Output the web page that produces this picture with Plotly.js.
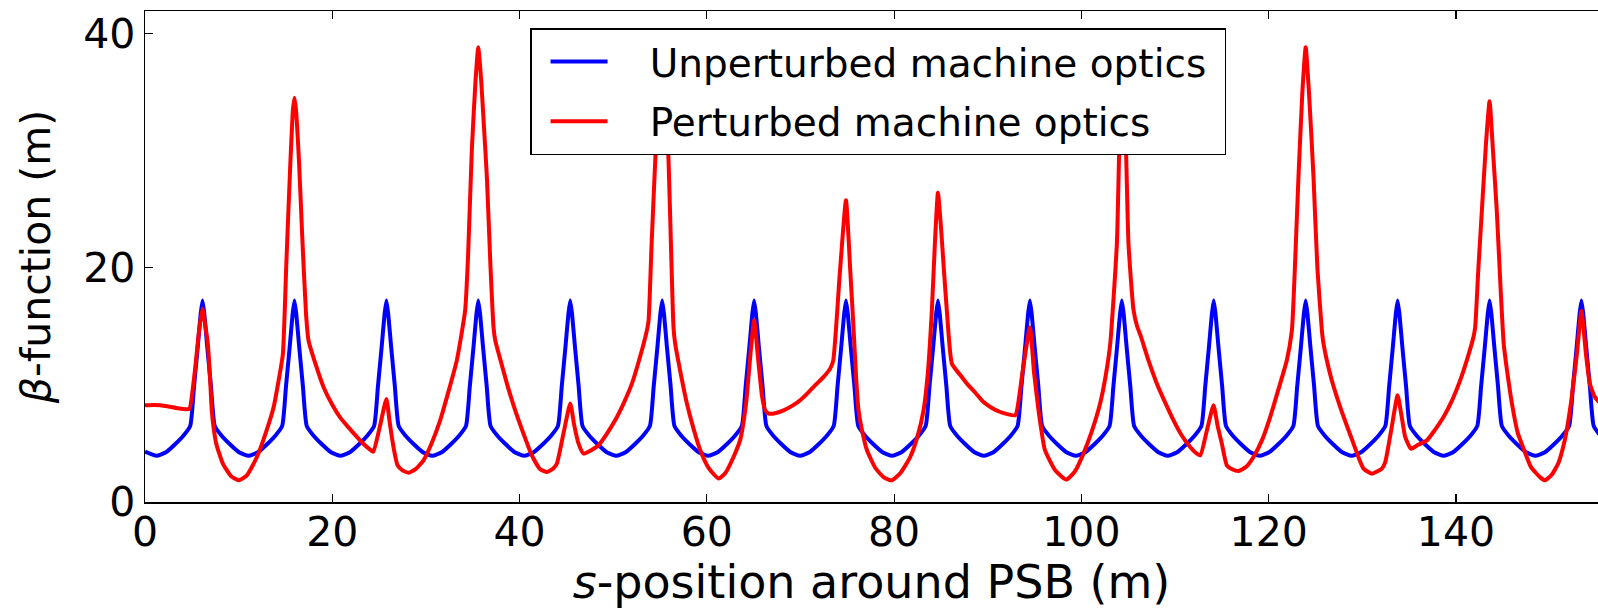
<!DOCTYPE html>
<html>
<head>
<meta charset="utf-8">
<script src="https://cdn.plot.ly/plotly-3.0.1.min.js"></script>
<style>
  html, body { margin: 0; padding: 0; background: #ffffff; }
  #chart { width: 1598px; height: 609px; }
</style>
</head>
<body>
<div id="chart"></div>
<script>
// ---- Data ----
// Unperturbed machine optics (blue): s-position (m) and beta (m)
const sUnperturbed = [
  0.00,
  1.23, 2.24, 3.24, 4.14, 4.83, 5.24, 5.64, 5.94, 6.14, 6.34, 6.64, 7.04, 7.45, 8.14, 9.04, 10.04,
  11.05, 12.06, 13.06, 13.96, 14.65, 15.06, 15.46, 15.76, 15.96, 16.16, 16.46, 16.86, 17.27, 17.96, 18.86, 19.86,
  20.87, 21.88, 22.88, 23.78, 24.47, 24.88, 25.28, 25.58, 25.78, 25.98, 26.28, 26.68, 27.09, 27.78, 28.68, 29.68,
  30.68, 31.69, 32.69, 33.59, 34.28, 34.69, 35.09, 35.39, 35.59, 35.79, 36.09, 36.49, 36.90, 37.59, 38.49, 39.49,
  40.50, 41.51, 42.51, 43.41, 44.10, 44.51, 44.91, 45.21, 45.41, 45.61, 45.91, 46.31, 46.72, 47.41, 48.31, 49.31,
  50.32, 51.33, 52.33, 53.23, 53.92, 54.33, 54.73, 55.03, 55.23, 55.43, 55.73, 56.13, 56.54, 57.23, 58.13, 59.13,
  60.14, 61.15, 62.15, 63.05, 63.74, 64.15, 64.55, 64.85, 65.05, 65.25, 65.55, 65.95, 66.36, 67.05, 67.95, 68.95,
  69.95, 70.96, 71.96, 72.86, 73.55, 73.96, 74.36, 74.66, 74.86, 75.06, 75.36, 75.76, 76.17, 76.86, 77.76, 78.76,
  79.77, 80.78, 81.78, 82.68, 83.37, 83.78, 84.18, 84.48, 84.68, 84.88, 85.18, 85.58, 85.99, 86.68, 87.58, 88.58,
  89.59, 90.60, 91.60, 92.50, 93.19, 93.60, 94.00, 94.30, 94.50, 94.70, 95.00, 95.40, 95.81, 96.50, 97.40, 98.40,
  99.41, 100.42, 101.42, 102.32, 103.01, 103.42, 103.82, 104.12, 104.32, 104.52, 104.82, 105.22, 105.63, 106.32, 107.22, 108.22,
  109.22, 110.23, 111.23, 112.13, 112.82, 113.23, 113.63, 113.93, 114.13, 114.33, 114.63, 115.03, 115.44, 116.13, 117.03, 118.03,
  119.04, 120.05, 121.05, 121.95, 122.64, 123.05, 123.45, 123.75, 123.95, 124.15, 124.45, 124.85, 125.26, 125.95, 126.85, 127.85,
  128.86, 129.87, 130.87, 131.77, 132.46, 132.87, 133.27, 133.57, 133.77, 133.97, 134.27, 134.67, 135.08, 135.77, 136.67, 137.67,
  138.68, 139.69, 140.69, 141.59, 142.28, 142.69, 143.09, 143.39, 143.59, 143.79, 144.09, 144.49, 144.90, 145.59, 146.49, 147.49,
  148.49, 149.50, 150.50, 151.40, 152.09, 152.50, 152.90, 153.20, 153.40, 153.60, 153.90, 154.30, 154.71, 155.40, 156.30, 157.08
];
const betaUnperturbed = [
  4.3,
  3.95, 4.25, 4.95, 5.7, 6.5, 9.9, 13.3, 16.0, 17.2, 16.0, 13.3, 9.9, 6.5, 5.7, 4.95, 4.25,
  3.95, 4.25, 4.95, 5.7, 6.5, 9.9, 13.3, 16.0, 17.2, 16.0, 13.3, 9.9, 6.5, 5.7, 4.95, 4.25,
  3.95, 4.25, 4.95, 5.7, 6.5, 9.9, 13.3, 16.0, 17.2, 16.0, 13.3, 9.9, 6.5, 5.7, 4.95, 4.25,
  3.95, 4.25, 4.95, 5.7, 6.5, 9.9, 13.3, 16.0, 17.2, 16.0, 13.3, 9.9, 6.5, 5.7, 4.95, 4.25,
  3.95, 4.25, 4.95, 5.7, 6.5, 9.9, 13.3, 16.0, 17.2, 16.0, 13.3, 9.9, 6.5, 5.7, 4.95, 4.25,
  3.95, 4.25, 4.95, 5.7, 6.5, 9.9, 13.3, 16.0, 17.2, 16.0, 13.3, 9.9, 6.5, 5.7, 4.95, 4.25,
  3.95, 4.25, 4.95, 5.7, 6.5, 9.9, 13.3, 16.0, 17.2, 16.0, 13.3, 9.9, 6.5, 5.7, 4.95, 4.25,
  3.95, 4.25, 4.95, 5.7, 6.5, 9.9, 13.3, 16.0, 17.2, 16.0, 13.3, 9.9, 6.5, 5.7, 4.95, 4.25,
  3.95, 4.25, 4.95, 5.7, 6.5, 9.9, 13.3, 16.0, 17.2, 16.0, 13.3, 9.9, 6.5, 5.7, 4.95, 4.25,
  3.95, 4.25, 4.95, 5.7, 6.5, 9.9, 13.3, 16.0, 17.2, 16.0, 13.3, 9.9, 6.5, 5.7, 4.95, 4.25,
  3.95, 4.25, 4.95, 5.7, 6.5, 9.9, 13.3, 16.0, 17.2, 16.0, 13.3, 9.9, 6.5, 5.7, 4.95, 4.25,
  3.95, 4.25, 4.95, 5.7, 6.5, 9.9, 13.3, 16.0, 17.2, 16.0, 13.3, 9.9, 6.5, 5.7, 4.95, 4.25,
  3.95, 4.25, 4.95, 5.7, 6.5, 9.9, 13.3, 16.0, 17.2, 16.0, 13.3, 9.9, 6.5, 5.7, 4.95, 4.25,
  3.95, 4.25, 4.95, 5.7, 6.5, 9.9, 13.3, 16.0, 17.2, 16.0, 13.3, 9.9, 6.5, 5.7, 4.95, 4.25,
  3.95, 4.25, 4.95, 5.7, 6.5, 9.9, 13.3, 16.0, 17.2, 16.0, 13.3, 9.9, 6.5, 5.7, 4.95, 4.25,
  3.95, 4.25, 4.95, 5.7, 6.5, 9.9, 13.3, 16.0, 17.2, 16.0, 13.3, 9.9, 6.5, 5.7, 4.95, 4.4
];

// Perturbed machine optics (red): s-position (m) and beta (m)
const sPerturbed = [
  0.00, 1.00, 1.62, 2.50, 3.50, 4.47, 4.75, 5.30, 5.80, 6.14, 6.45, 6.71, 6.95, 7.13, 7.35, 7.60, 8.30, 9.20,
  10.06, 10.90, 11.95, 12.90, 13.74, 14.30, 14.72, 15.10, 15.50, 15.80, 15.96, 16.12, 16.45, 16.80, 17.20, 17.46,
  18.20, 19.07, 20.00, 20.85, 21.80, 22.63, 23.40, 24.23, 24.40, 25.10, 25.78, 26.10, 26.36, 26.70, 26.97, 27.50,
  28.14, 28.90, 29.74, 30.60, 31.52, 32.40, 33.30, 34.19, 34.50, 34.90, 35.30, 35.59, 35.90, 36.20, 36.51, 36.90,
  37.22, 37.40, 38.00, 38.65, 39.50, 40.42, 41.30, 42.20, 42.92, 43.60, 43.99, 44.70, 45.41, 45.85, 46.30, 46.83,
  47.60, 48.43, 49.30, 50.21, 51.10, 52.00, 52.80, 53.60, 53.78, 54.10, 54.49, 54.90, 55.23, 55.55, 55.91, 56.20,
  56.44, 56.62, 57.20, 57.87, 58.60, 59.29, 60.20, 61.25, 62.00, 62.85, 63.56, 64.20, 64.70, 65.05, 65.50, 65.90,
  66.23, 66.60, 67.40, 68.19, 69.10, 69.97, 70.90, 71.75, 72.50, 73.17, 73.50, 74.20, 74.86, 75.30, 75.66, 75.95,
  76.20, 76.60, 77.09, 78.00, 78.90, 79.76, 80.70, 81.72, 82.50, 83.14, 83.60, 84.03, 84.35, 84.68, 85.00, 85.30,
  85.63, 86.17, 87.00, 87.77, 88.70, 89.55, 90.40, 91.33, 92.10, 92.93, 93.70, 94.50, 94.95, 95.42, 95.75, 96.10,
  97.20, 98.38, 99.30, 100.22, 101.10, 102.00, 102.60, 103.08, 103.79, 104.05, 104.35, 104.75, 105.03, 105.57, 105.95, 106.28,
  107.20, 108.06, 109.00, 109.84, 110.70, 111.62, 112.20, 112.69, 113.40, 114.11, 114.55, 115.00, 115.53, 116.10, 116.78, 117.60,
  118.38, 119.30, 120.16, 121.00, 121.94, 122.48, 122.85, 123.18, 123.60, 123.95, 124.30, 124.79, 125.20, 125.68, 125.86, 126.70,
  127.64, 128.40, 129.06, 129.60, 130.13, 131.02, 132.09, 132.45, 133.10, 133.77, 134.20, 134.58, 135.19, 136.00, 136.90, 137.80,
  138.67, 139.60, 140.45, 141.20, 141.87, 142.05, 142.40, 142.77, 143.20, 143.59, 143.95, 144.35, 144.75, 145.10, 145.44, 146.00, 146.60,
  147.20, 148.00, 149.00, 149.50, 150.20, 150.92, 151.60, 152.17, 152.90, 153.40, 153.90, 154.30, 154.83, 155.50, 156.30, 157.08
];
const betaPerturbed = [
  8.25, 8.27, 8.25, 8.15, 8.0, 7.91, 7.95, 11.0, 14.8, 16.5, 15.0, 13.5, 10.5, 7.8, 6.2, 5.0, 3.3, 2.2,
  1.85, 2.3, 3.84, 5.9, 8.1, 10.5, 12.6, 20.5, 28.5, 33.5, 34.5, 33.5, 29.0, 22.5, 16.0, 13.8,
  11.8, 9.8, 8.3, 7.2, 6.3, 5.55, 4.9, 4.35, 4.3, 6.5, 8.8, 7.0, 5.55, 4.0, 3.13, 2.7,
  2.5, 2.8, 3.56, 5.0, 6.97, 9.4, 12.09, 16.36, 21.0, 30.0, 36.0, 38.8, 36.0, 32.0, 27.7, 20.0,
  14.9, 13.8, 12.0, 10.1, 7.9, 5.83, 4.0, 2.8, 2.56, 2.85, 3.28, 5.9, 8.4, 6.5, 4.98, 4.13,
  4.4, 4.84, 5.8, 6.97, 8.4, 10.1, 12.2, 14.65, 15.5, 22.0, 29.15, 35.5, 38.5, 35.5, 29.15, 21.0,
  14.9, 13.5, 11.0, 8.4, 6.2, 4.44, 2.9, 2.0, 2.5, 3.84, 5.3, 8.5, 13.0, 15.5, 12.0, 9.0,
  7.82, 7.54, 7.6, 7.82, 8.2, 8.68, 9.4, 10.1, 10.7, 11.38, 12.09, 19.5, 25.74, 20.0, 14.9, 10.5,
  7.82, 6.0, 4.44, 2.9, 2.1, 1.85, 2.5, 3.84, 5.6, 7.82, 11.0, 16.36, 22.0, 26.4, 23.5, 20.0,
  16.36, 11.8, 10.9, 10.1, 9.3, 8.53, 8.05, 7.68, 7.5, 7.4, 11.0, 14.9, 11.0, 7.82, 6.0, 4.44,
  2.7, 1.91, 2.6, 4.13, 6.0, 8.4, 10.8, 13.5, 22.05, 30.5, 38.5, 30.5, 22.05, 16.36, 15.0, 14.3,
  12.0, 10.1, 8.4, 6.97, 5.7, 4.69, 4.2, 3.98, 6.1, 8.25, 6.5, 4.98, 3.13, 2.8, 2.65, 3.0,
  3.84, 5.3, 7.25, 9.5, 12.09, 14.65, 21.0, 27.7, 35.0, 38.8, 35.0, 27.7, 20.0, 14.65, 13.5, 10.5,
  8.1, 6.4, 4.98, 3.8, 2.85, 2.42, 2.85, 3.41, 6.2, 9.1, 7.3, 5.55, 4.55, 4.9, 5.26, 6.2,
  7.25, 8.7, 10.38, 12.2, 14.08, 14.9, 20.0, 24.9, 30.5, 34.2, 30.0, 25.0, 18.5, 13.5, 11.3, 8.3, 5.9,
  4.6, 3.0, 2.1, 1.85, 2.3, 3.28, 5.2, 7.82, 12.5, 16.3, 12.5, 10.1, 8.97, 8.4, 8.3, 8.25
];

const seriesNames = ['Unperturbed machine optics', 'Perturbed machine optics'];
const xTickValues = [0, 20, 40, 60, 80, 100, 120, 140];
const yTickValues = [0, 20, 40];
const xTitle = '<i>s</i>-position around PSB (m)';
const yTitle = '<i>β</i>-function (m)';

// ---- Figure ----
const FONT = 'DejaVu Sans, Bitstream Vera Sans, sans-serif';
const PAD = '\u00a0\u00a0\u00a0';   // visual gap between legend line sample and text

const traces = [
  {
    x: sUnperturbed, y: betaUnperturbed, type: 'scatter', mode: 'lines',
    name: PAD + seriesNames[0] + '\u00a0', legendgroup: 'g1',
    line: { color: '#0000ff', width: 4, shape: 'spline', smoothing: 0.5 }
  },
  {
    x: sPerturbed, y: betaPerturbed, type: 'scatter', mode: 'lines',
    name: PAD + seriesNames[1], legendgroup: 'g2',
    line: { color: '#ff0000', width: 4, shape: 'spline', smoothing: 0.5 }
  }
];

const axisCommon = {
  showgrid: false, zeroline: false,
  showline: true, linecolor: '#000000', linewidth: 1.5,
  ticks: 'inside', ticklen: 8, tickwidth: 1.2, tickcolor: '#000000',
  tickfont: { family: FONT, size: 41, color: '#000000' }
};

const layout = {
  width: 1598, height: 609,
  paper_bgcolor: '#ffffff', plot_bgcolor: '#ffffff',
  margin: { l: 145, r: 0, t: 11, b: 107 },
  font: { family: FONT, color: '#000000' },
  showlegend: true,
  legend: {
    x: 0.265, y: 0.965, xanchor: 'left', yanchor: 'top',
    bgcolor: '#ffffff', bordercolor: '#000000', borderwidth: 1.5,
    font: { family: FONT, size: 39, color: '#000000' },
    itemwidth: 57, indentation: 14,
    traceorder: 'grouped', tracegroupgap: 6
  },
  xaxis: Object.assign({}, axisCommon, {
    range: [0, 155.17], tickmode: 'array', tickvals: xTickValues,
    ticktext: xTickValues.map(String),
    mirror: 'ticks', ticklabelstandoff: -7,
    title: { text: xTitle, font: { family: FONT, size: 46, color: '#000000' }, standoff: 21 }
  }),
  yaxis: Object.assign({}, axisCommon, {
    range: [0, 41.9], tickmode: 'array', tickvals: yTickValues,
    ticktext: yTickValues.map(String),
    mirror: false, ticklabelstandoff: 0,
    title: { text: yTitle, font: { family: FONT, size: 41, color: '#000000' }, standoff: 20 }
  })
};

Plotly.newPlot('chart', traces, layout, { displayModeBar: false, staticPlot: true });
</script>
</body>
</html>
